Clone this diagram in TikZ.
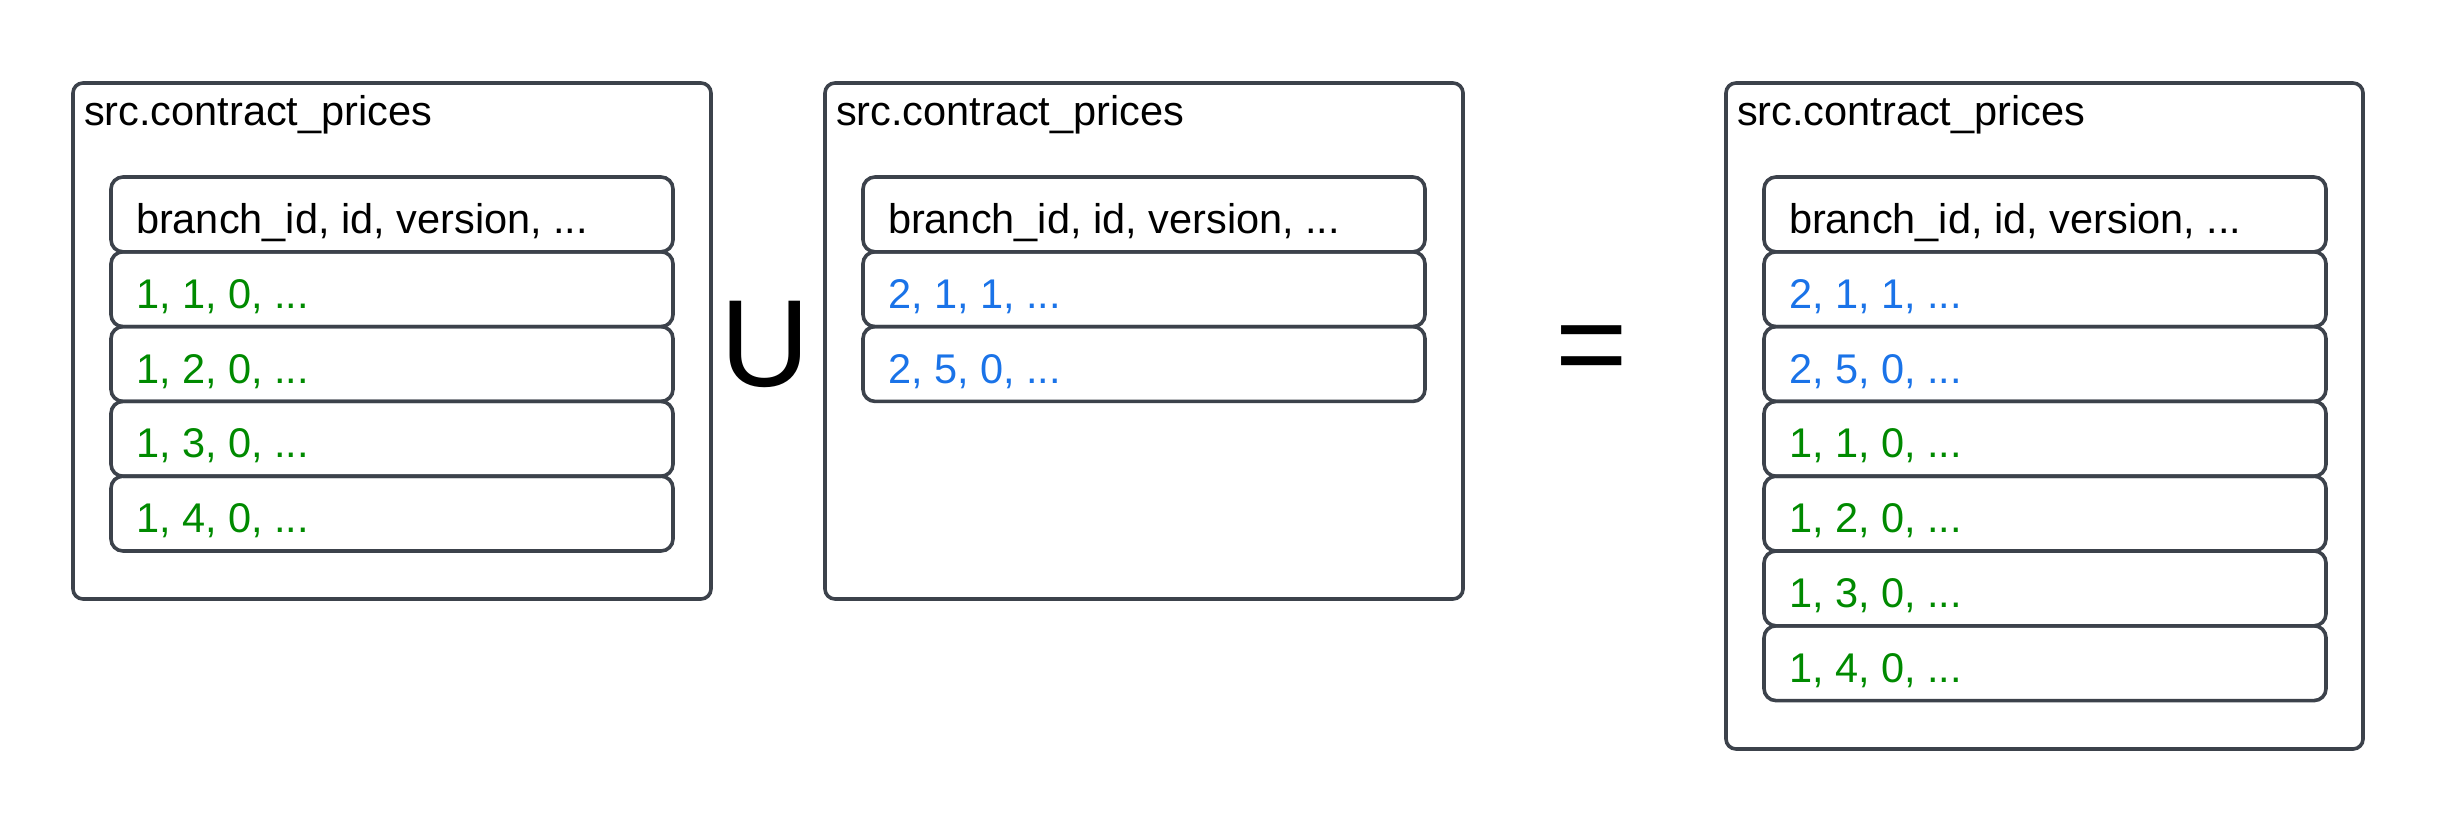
\documentclass[tikz,border=0pt]{standalone}
\usepackage{fontspec}
\setmainfont{Liberation Sans}
\definecolor{edge}{HTML}{3C424B}
\definecolor{grn}{HTML}{008A00}
\definecolor{blu}{HTML}{1A73E8}
\tikzset{
  outerbox/.style={draw=edge, line width=3.6pt, rounded corners=10pt, outer sep=0pt, inner sep=0pt, anchor=north west},
  rowbox/.style={draw=edge, line width=3.6pt, rounded corners=12pt, minimum width=562pt, minimum height=74.8pt, inner sep=0pt, outer sep=0pt, anchor=north west},
  txt/.style={font=\fontsize{41.5}{48}\selectfont, inner sep=0pt, outer sep=0pt, anchor=base west},
  big/.style={font=\fontsize{124}{130}\selectfont, inner sep=0pt, outer sep=0pt, anchor=base},
}
\begin{document}
\begin{tikzpicture}[x=1pt,y=-1pt]
\useasboundingbox (0,0) rectangle (2438,825);
% outer containers
\node[outerbox, minimum width=638pt, minimum height=516pt] (A) at (73,83) {};
\node[outerbox, minimum width=638pt, minimum height=516pt] (B) at (825,83) {};
\node[outerbox, minimum width=637pt, minimum height=666pt] (C) at (1726,83) {};
\node[txt] (At) at (84,125.5) {src.contract\_prices};
\node[txt] (Bt) at (836,125.5) {src.contract\_prices};
\node[txt] (Ct) at (1737,125.5) {src.contract\_prices};
% box A rows
\node[rowbox] (A0) at (111,177) {};
\node[rowbox] (A1) at (111,251.8) {};
\node[rowbox] (A2) at (111,326.6) {};
\node[rowbox] (A3) at (111,401.4) {};
\node[rowbox] (A4) at (111,476.2) {};
\node[txt] (A0t) at ([xshift=25pt,yshift=-19pt]A0.west) {branch\_id, id, version, ...};
\node[txt, text=grn] (A1t) at ([xshift=25pt,yshift=-19pt]A1.west) {1, 1, 0, ...};
\node[txt, text=grn] (A2t) at ([xshift=25pt,yshift=-19pt]A2.west) {1, 2, 0, ...};
\node[txt, text=grn] (A3t) at ([xshift=25pt,yshift=-19pt]A3.west) {1, 3, 0, ...};
\node[txt, text=grn] (A4t) at ([xshift=25pt,yshift=-19pt]A4.west) {1, 4, 0, ...};
% box B rows
\node[rowbox] (B0) at (863,177) {};
\node[rowbox] (B1) at (863,251.8) {};
\node[rowbox] (B2) at (863,326.6) {};
\node[txt] (B0t) at ([xshift=25pt,yshift=-19pt]B0.west) {branch\_id, id, version, ...};
\node[txt, text=blu] (B1t) at ([xshift=25pt,yshift=-19pt]B1.west) {2, 1, 1, ...};
\node[txt, text=blu] (B2t) at ([xshift=25pt,yshift=-19pt]B2.west) {2, 5, 0, ...};
% box C rows
\node[rowbox] (C0) at (1764,177) {};
\node[rowbox] (C1) at (1764,251.8) {};
\node[rowbox] (C2) at (1764,326.6) {};
\node[rowbox] (C3) at (1764,401.4) {};
\node[rowbox] (C4) at (1764,476.2) {};
\node[rowbox] (C5) at (1764,551) {};
\node[rowbox] (C6) at (1764,625.8) {};
\node[txt] (C0t) at ([xshift=25pt,yshift=-19pt]C0.west) {branch\_id, id, version, ...};
\node[txt, text=blu] (C1t) at ([xshift=25pt,yshift=-19pt]C1.west) {2, 1, 1, ...};
\node[txt, text=blu] (C2t) at ([xshift=25pt,yshift=-19pt]C2.west) {2, 5, 0, ...};
\node[txt, text=grn] (C3t) at ([xshift=25pt,yshift=-19pt]C3.west) {1, 1, 0, ...};
\node[txt, text=grn] (C4t) at ([xshift=25pt,yshift=-19pt]C4.west) {1, 2, 0, ...};
\node[txt, text=grn] (C5t) at ([xshift=25pt,yshift=-19pt]C5.west) {1, 3, 0, ...};
\node[txt, text=grn] (C6t) at ([xshift=25pt,yshift=-19pt]C6.west) {1, 4, 0, ...};
% operators
\node[big] (U) at (765,386) {U};
\node[big] (EQ) at (1592,386.5) {=};
\end{tikzpicture}
\end{document}
